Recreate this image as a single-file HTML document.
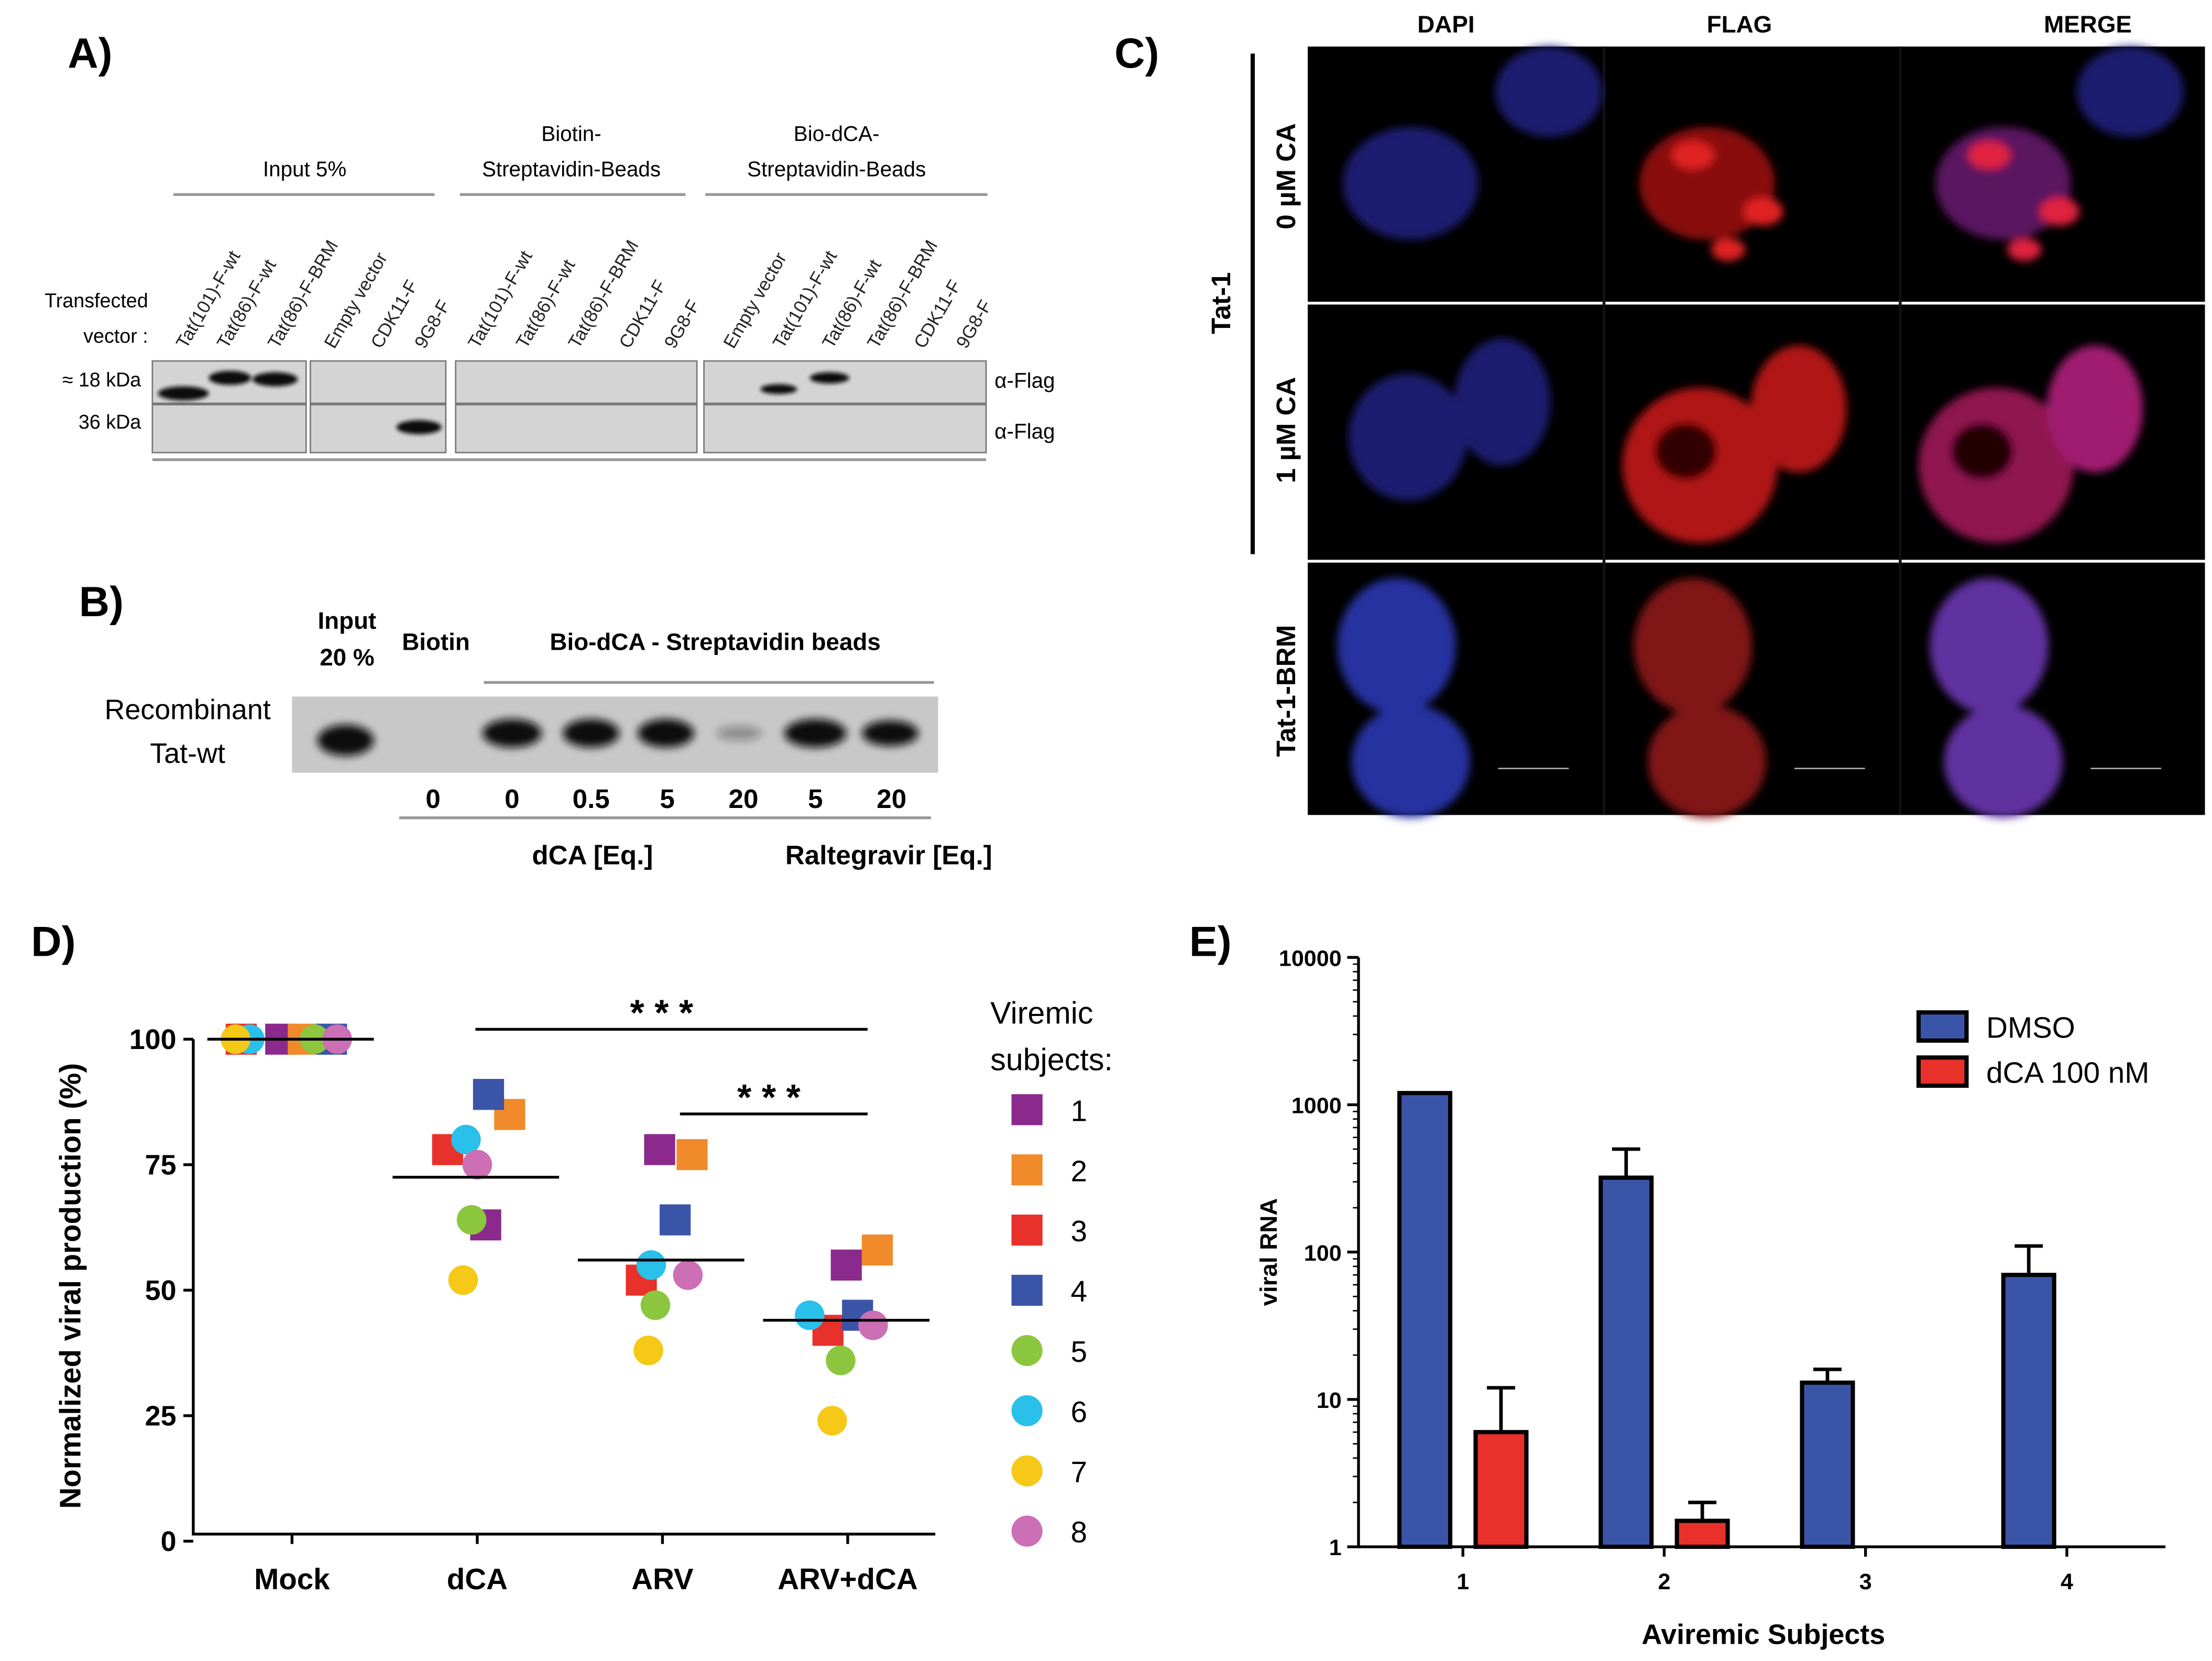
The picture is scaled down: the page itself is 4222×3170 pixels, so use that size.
<!DOCTYPE html>
<html><head><meta charset="utf-8"><style>
html,body{margin:0;padding:0;background:#fff}
svg{display:block}
text{font-family:"Liberation Sans",sans-serif}
</style></head><body>
<svg id="fig" width="4222" height="3170" viewBox="0 0 1568 1178" preserveAspectRatio="none" xmlns="http://www.w3.org/2000/svg">
<defs>
<filter id="bl" x="-50%" y="-50%" width="200%" height="200%"><feGaussianBlur stdDeviation="3"/></filter>
<filter id="bl2" x="-50%" y="-50%" width="200%" height="200%"><feGaussianBlur stdDeviation="1.5"/></filter>
</defs>
<!-- Panel A -->
<g>
<text x="48" y="48" font-size="30" font-weight="bold">A)</text>
<text x="216" y="125" font-size="15" text-anchor="middle">Input  5%</text>
<line x1="123" y1="138" x2="308" y2="138" stroke="#999" stroke-width="2"/>
<text x="405" y="100" font-size="15" text-anchor="middle">Biotin-</text>
<text x="405" y="125" font-size="15" text-anchor="middle">Streptavidin-Beads</text>
<line x1="326" y1="138" x2="486" y2="138" stroke="#999" stroke-width="2"/>
<text x="593" y="100" font-size="15" text-anchor="middle">Bio-dCA-</text>
<text x="593" y="125" font-size="15" text-anchor="middle">Streptavidin-Beads</text>
<line x1="500" y1="138" x2="700" y2="138" stroke="#999" stroke-width="2"/>
<text x="105" y="218" font-size="14" text-anchor="end">Transfected</text>
<text x="105" y="243" font-size="14" text-anchor="end">vector :</text>
<g font-size="13" fill="#222">
<text transform="translate(132,248) rotate(-60)">Tat(101)-F-wt</text>
<text transform="translate(161,248) rotate(-60)">Tat(86)-F-wt</text>
<text transform="translate(197,248) rotate(-60)">Tat(86)-F-BRM</text>
<text transform="translate(237,248) rotate(-60)">Empty vector</text>
<text transform="translate(270,248) rotate(-60)">CDK11-F</text>
<text transform="translate(301,248) rotate(-60)">9G8-F</text>
<text transform="translate(339,248) rotate(-60)">Tat(101)-F-wt</text>
<text transform="translate(373,248) rotate(-60)">Tat(86)-F-wt</text>
<text transform="translate(410,248) rotate(-60)">Tat(86)-F-BRM</text>
<text transform="translate(446,248) rotate(-60)">CDK11-F</text>
<text transform="translate(478,248) rotate(-60)">9G8-F</text>
<text transform="translate(520,248) rotate(-60)">Empty vector</text>
<text transform="translate(555,248) rotate(-60)">Tat(101)-F-wt</text>
<text transform="translate(590,248) rotate(-60)">Tat(86)-F-wt</text>
<text transform="translate(622,248) rotate(-60)">Tat(86)-F-BRM</text>
<text transform="translate(655,248) rotate(-60)">CDK11-F</text>
<text transform="translate(685,248) rotate(-60)">9G8-F</text>
</g>
<text x="100" y="274" font-size="14" text-anchor="end">≈ 18 kDa</text>
<text x="100" y="304" font-size="14" text-anchor="end">36 kDa</text>
<g fill="#d4d4d4" stroke="#777" stroke-width="1">
<rect x="108" y="256" width="109" height="30"/><rect x="108" y="287" width="109" height="34"/>
<rect x="220" y="256" width="96" height="30"/><rect x="220" y="287" width="96" height="34"/>
<rect x="323" y="256" width="171" height="30"/><rect x="323" y="287" width="171" height="34"/>
<rect x="499" y="256" width="200" height="30"/><rect x="499" y="287" width="200" height="34"/>
</g>
<line x1="108" y1="326" x2="699" y2="326" stroke="#999" stroke-width="2"/>
<g fill="#111" filter="url(#bl2)">
<ellipse cx="130" cy="279" rx="18" ry="5"/><ellipse cx="163" cy="268" rx="15" ry="5"/><ellipse cx="195" cy="269" rx="16" ry="5"/>
<ellipse cx="297" cy="303" rx="16" ry="5"/><ellipse cx="552" cy="276" rx="13" ry="3.5"/><ellipse cx="588" cy="268" rx="14" ry="4"/>
</g>
<text x="705" y="275" font-size="15">α-Flag</text>
<text x="705" y="311" font-size="15">α-Flag</text>
</g>
<!-- Panel B -->
<g>
<text x="56" y="437" font-size="30" font-weight="bold">B)</text>
<text x="246" y="446" font-size="17" font-weight="bold" text-anchor="middle">Input</text>
<text x="246" y="472" font-size="17" font-weight="bold" text-anchor="middle">20 %</text>
<text x="309" y="461" font-size="17" font-weight="bold" text-anchor="middle">Biotin</text>
<text x="507" y="461" font-size="17" font-weight="bold" text-anchor="middle">Bio-dCA - Streptavidin beads</text>
<line x1="343" y1="484" x2="662" y2="484" stroke="#999" stroke-width="2"/>
<text x="133" y="510" font-size="20" text-anchor="middle">Recombinant</text>
<text x="133" y="541" font-size="20" text-anchor="middle">Tat-wt</text>
<rect x="207" y="494" width="458" height="54" fill="#c8c8c8"/>
<g fill="#111" filter="url(#bl)">
<ellipse cx="245" cy="525" rx="20" ry="11"/><ellipse cx="363" cy="520" rx="21" ry="10"/><ellipse cx="419" cy="520" rx="20" ry="10"/>
<ellipse cx="472" cy="520" rx="20" ry="10"/><ellipse cx="524" cy="520" rx="16" ry="5" opacity="0.35"/><ellipse cx="578" cy="520" rx="22" ry="10"/><ellipse cx="631" cy="520" rx="20" ry="9"/>
</g>
<g font-size="19" font-weight="bold" text-anchor="middle">
<text x="307" y="573">0</text><text x="363" y="573">0</text><text x="419" y="573">0.5</text><text x="473" y="573">5</text><text x="527" y="573">20</text><text x="578" y="573">5</text><text x="632" y="573">20</text>
</g>
<line x1="283" y1="580" x2="660" y2="580" stroke="#999" stroke-width="2"/>
<text x="420" y="613" font-size="19" font-weight="bold" text-anchor="middle">dCA [Eq.]</text>
<text x="630" y="613" font-size="19" font-weight="bold" text-anchor="middle">Raltegravir [Eq.]</text>
</g>
<!-- Panel C -->
<g>
<text x="790" y="48" font-size="30" font-weight="bold">C)</text>
<text x="1025" y="23" font-size="17" font-weight="bold" text-anchor="middle">DAPI</text>
<text x="1233" y="23" font-size="17" font-weight="bold" text-anchor="middle">FLAG</text>
<text x="1480" y="23" font-size="17" font-weight="bold" text-anchor="middle">MERGE</text>
<line x1="888" y1="38" x2="888" y2="393" stroke="#000" stroke-width="3"/>
<text transform="translate(872,215) rotate(-90)" font-size="19" font-weight="bold" text-anchor="middle">Tat-1</text>
<text transform="translate(918,125) rotate(-90)" font-size="19" font-weight="bold" text-anchor="middle">0 µM CA</text>
<text transform="translate(918,305) rotate(-90)" font-size="19" font-weight="bold" text-anchor="middle">1 µM CA</text>
<text transform="translate(918,490) rotate(-90)" font-size="19" font-weight="bold" text-anchor="middle">Tat-1-BRM</text>
<rect x="927" y="33" width="636" height="545" fill="#000"/>
<line x1="927" y1="215" x2="1563" y2="215" stroke="#fff" stroke-width="2"/>
<line x1="927" y1="398" x2="1563" y2="398" stroke="#fff" stroke-width="2"/>
<line x1="1137" y1="33" x2="1137" y2="578" stroke="#111" stroke-width="2"/>
<line x1="1347" y1="33" x2="1347" y2="578" stroke="#111" stroke-width="2"/>
<g filter="url(#bl)">
<ellipse cx="1000" cy="130" rx="48" ry="40" fill="#1a1f70"/><ellipse cx="1098" cy="65" rx="38" ry="32" fill="#1a1f70"/>
<ellipse cx="1210" cy="130" rx="48" ry="40" fill="#8a0a0a"/><ellipse cx="1200" cy="110" rx="15" ry="10" fill="#e02020"/><ellipse cx="1250" cy="150" rx="14" ry="10" fill="#e02020"/><ellipse cx="1225" cy="177" rx="12" ry="8" fill="#e02020"/>
<ellipse cx="1420" cy="130" rx="48" ry="40" fill="#5a1460"/><ellipse cx="1410" cy="110" rx="15" ry="10" fill="#e02040"/><ellipse cx="1460" cy="150" rx="14" ry="10" fill="#e02040"/><ellipse cx="1435" cy="177" rx="12" ry="8" fill="#e02040"/><ellipse cx="1510" cy="65" rx="38" ry="32" fill="#1a1f70"/>
<ellipse cx="998" cy="310" rx="42" ry="45" fill="#1a1f70"/><ellipse cx="1065" cy="285" rx="34" ry="45" fill="#1a1f70"/>
<ellipse cx="1205" cy="330" rx="55" ry="55" fill="#b01515"/><ellipse cx="1195" cy="320" rx="22" ry="20" fill="#300"/><ellipse cx="1275" cy="290" rx="34" ry="45" fill="#b01515"/>
<ellipse cx="1415" cy="330" rx="55" ry="55" fill="#901550"/><ellipse cx="1405" cy="320" rx="22" ry="20" fill="#200"/><ellipse cx="1485" cy="290" rx="34" ry="45" fill="#a01a70"/>
<ellipse cx="990" cy="458" rx="42" ry="48" fill="#2830a0"/><ellipse cx="1000" cy="540" rx="42" ry="40" fill="#2830a0"/>
<ellipse cx="1200" cy="458" rx="42" ry="48" fill="#801515"/><ellipse cx="1210" cy="540" rx="42" ry="40" fill="#801515"/>
<ellipse cx="1410" cy="458" rx="42" ry="48" fill="#6030a0"/><ellipse cx="1420" cy="540" rx="42" ry="40" fill="#6030a0"/>
</g>
<g stroke="#aaa" stroke-width="1"><line x1="1062" y1="545" x2="1112" y2="545"/><line x1="1272" y1="545" x2="1322" y2="545"/><line x1="1482" y1="545" x2="1532" y2="545"/></g>
</g>
<!-- Panel D -->
<g id="panelD">
<text x="22" y="678" font-size="30" font-weight="bold">D)</text>
</g>
<!-- Panel E -->
<g id="panelE">
<text x="843" y="678" font-size="30" font-weight="bold">E)</text>
</g>
</svg>
<script>
const NS='http://www.w3.org/2000/svg';
// ---- Panel D data ----
const dGroups=['Mock','dCA','ARV','ARV+dCA'];
const dSubjects=['1','2','3','4','5','6','7','8'];
const dShapes=['sq','sq','sq','sq','ci','ci','ci','ci'];
const dColors=['#8b2a8c','#f08a2a','#e8312a','#3a55a8','#8cc63f','#29c0ea','#f6c818','#cc6fb5'];
const dMock=[100,100,100,100,100,100,100,100];
const dDca=[63,85,78,89,64,80,52,75];
const dArv=[78,77,52,64,47,55,38,53];
const dArvDca=[55,58,42,45,36,45,24,43];
const dMeans=[100,72.5,56,44];
const dTicks=[0,25,50,75,100];
const dValues=[dMock,dDca,dArv,dArvDca];
const dJitter=[[-8,8,-36,28,16,-30,-40,32],[6,23,-21,8,-4,-8,-10,0],[-2,21,-15,9,-5,-8,-10,18],[-1,21,-14,7,-5,-27,-11,18]];
// ---- Panel E data ----
const eCats=['1','2','3','4'];
const eDmso=[1200,320,13,70];
const eDmsoErr=[1200,500,16,110];
const eDca=[6,1.5,null,null];
const eDcaErr=[12,2,null,null];
const eTicks=[1,10,100,1000,10000];

const svg=document.getElementById('fig');
function mk(tag,attrs,parent){const e=document.createElementNS(NS,tag);for(const k in attrs)e.setAttribute(k,attrs[k]);(parent||svg).appendChild(e);return e;}
function txt(s,attrs,parent){const e=mk('text',attrs,parent);e.textContent=s;return e;}

// Panel D
const gD=document.getElementById('panelD');
const yD=v=>1093-v*3.56;
const xD=i=>207+i*131.3;
let ax=mk('path',{d:'M137,737 L137,1088 L663,1088',fill:'none',stroke:'#000','stroke-width':2},gD);


dTicks.forEach(t=>{
 mk('line',{x1:130,x2:137,y1:yD(t),y2:yD(t),stroke:'#000','stroke-width':2},gD);
 const l=txt(String(t),{x:125,y:yD(t)+7,'font-size':20,'font-weight':'bold','text-anchor':'end'},gD);
 
 
});
dGroups.forEach((g,i)=>{
 mk('line',{x1:xD(i),x2:xD(i),y1:1088,y2:1095,stroke:'#000','stroke-width':2},gD);
 const l=txt(g,{x:xD(i),y:1127,'font-size':21,'font-weight':'bold','text-anchor':'middle'},gD);
 
 
});
const yt=txt('Normalized viral production (%)',{transform:'translate(57,912) rotate(-90)','font-size':21,'font-weight':'bold','text-anchor':'middle'},gD);


dValues.forEach((arr,gi)=>{
 arr.forEach((v,si)=>{
  const cx=xD(gi)+dJitter[gi][si], cy=yD(v);
  let m;
  if(dShapes[si]==='sq'){m=mk('rect',{x:cx-11,y:cy-11,width:22,height:22,fill:dColors[si]},gD);}
  else{m=mk('circle',{cx:cx,cy:cy,r:10.5,fill:dColors[si]},gD);}
  
  
 });
});
dMeans.forEach((m,i)=>{
 const l=mk('line',{x1:xD(i)-60,x2:xD(i)+58,y1:yD(m),y2:yD(m),stroke:'#000','stroke-width':2},gD);
 
 
});
mk('line',{x1:337,x2:615,y1:730,y2:730,stroke:'#000','stroke-width':2},gD);
txt('* * *',{x:469,y:727,'font-size':26,'font-weight':'bold','text-anchor':'middle'},gD);
mk('line',{x1:482,x2:615,y1:790,y2:790,stroke:'#000','stroke-width':2},gD);
txt('* * *',{x:545,y:787,'font-size':26,'font-weight':'bold','text-anchor':'middle'},gD);
txt('Viremic',{x:702,y:726,'font-size':22},gD);
txt('subjects:',{x:702,y:759,'font-size':22},gD);
dSubjects.forEach((s,i)=>{
 const cy=787+i*42.7;
 let m;
 if(dShapes[i]==='sq')m=mk('rect',{x:717,y:cy-11,width:22,height:22,fill:dColors[i]},gD);
 else m=mk('circle',{cx:728,cy:cy,r:11,fill:dColors[i]},gD);
 
 
 txt(s,{x:759,y:cy+8,'font-size':21},gD);
});

// Panel E
const gE=document.getElementById('panelE');
const yE=v=>1097-Math.log10(v)*104.5;
const xE=i=>1037+i*142.7;
const ea=mk('path',{d:'M963,679 L963,1097 L1535,1097',fill:'none',stroke:'#000','stroke-width':2},gE);


eTicks.forEach(t=>{
 mk('line',{x1:955,x2:963,y1:yE(t),y2:yE(t),stroke:'#000','stroke-width':2},gE);
 const l=txt(String(t),{x:951,y:yE(t)+6,'font-size':16,'font-weight':'bold','text-anchor':'end'},gE);
 
 
});
for(let k=0;k<4;k++)for(let j=2;j<10;j++){const v=Math.pow(10,k)*j;mk('line',{x1:959,x2:963,y1:yE(v),y2:yE(v),stroke:'#000','stroke-width':1},gE);}
eCats.forEach((c,i)=>{
 mk('line',{x1:xE(i),x2:xE(i),y1:1097,y2:1104,stroke:'#000','stroke-width':2},gE);
 const l=txt(c,{x:xE(i),y:1127,'font-size':16,'font-weight':'bold','text-anchor':'middle'},gE);
 
 
});
const et=txt('viral RNA',{transform:'translate(905,888) rotate(-90)','font-size':17,'font-weight':'bold','text-anchor':'middle'},gE);


const ex=txt('Aviremic Subjects',{x:1250,y:1166,'font-size':20,'font-weight':'bold','text-anchor':'middle'},gE);


function bar(v,err,cx,col,name){
 if(v==null)return;
 if(err!=null&&err>v){mk('line',{x1:cx,x2:cx,y1:yE(err),y2:yE(v),stroke:'#000','stroke-width':2.5},gE);mk('line',{x1:cx-10,x2:cx+10,y1:yE(err),y2:yE(err),stroke:'#000','stroke-width':2.5},gE);}
 const b=mk('rect',{x:cx-18,y:yE(v),width:36,height:1097-yE(v),fill:col,stroke:'#000','stroke-width':3},gE);
 
 
}
eCats.forEach((c,i)=>{
 bar(eDmso[i],eDmsoErr[i],xE(i)-27,'#3a55a8','bar-dmso-'+c);
 bar(eDca[i],eDcaErr[i],xE(i)+27,'#e8312a','bar-dca-'+c);
});
const l1=mk('rect',{x:1360,y:718,width:34,height:20,fill:'#3a55a8',stroke:'#000','stroke-width':3},gE);


txt('DMSO',{x:1408,y:736,'font-size':21},gE);
const l2=mk('rect',{x:1360,y:750,width:34,height:20,fill:'#e8312a',stroke:'#000','stroke-width':3},gE);


txt('dCA 100 nM',{x:1408,y:768,'font-size':21},gE);
</script>
</body></html>
